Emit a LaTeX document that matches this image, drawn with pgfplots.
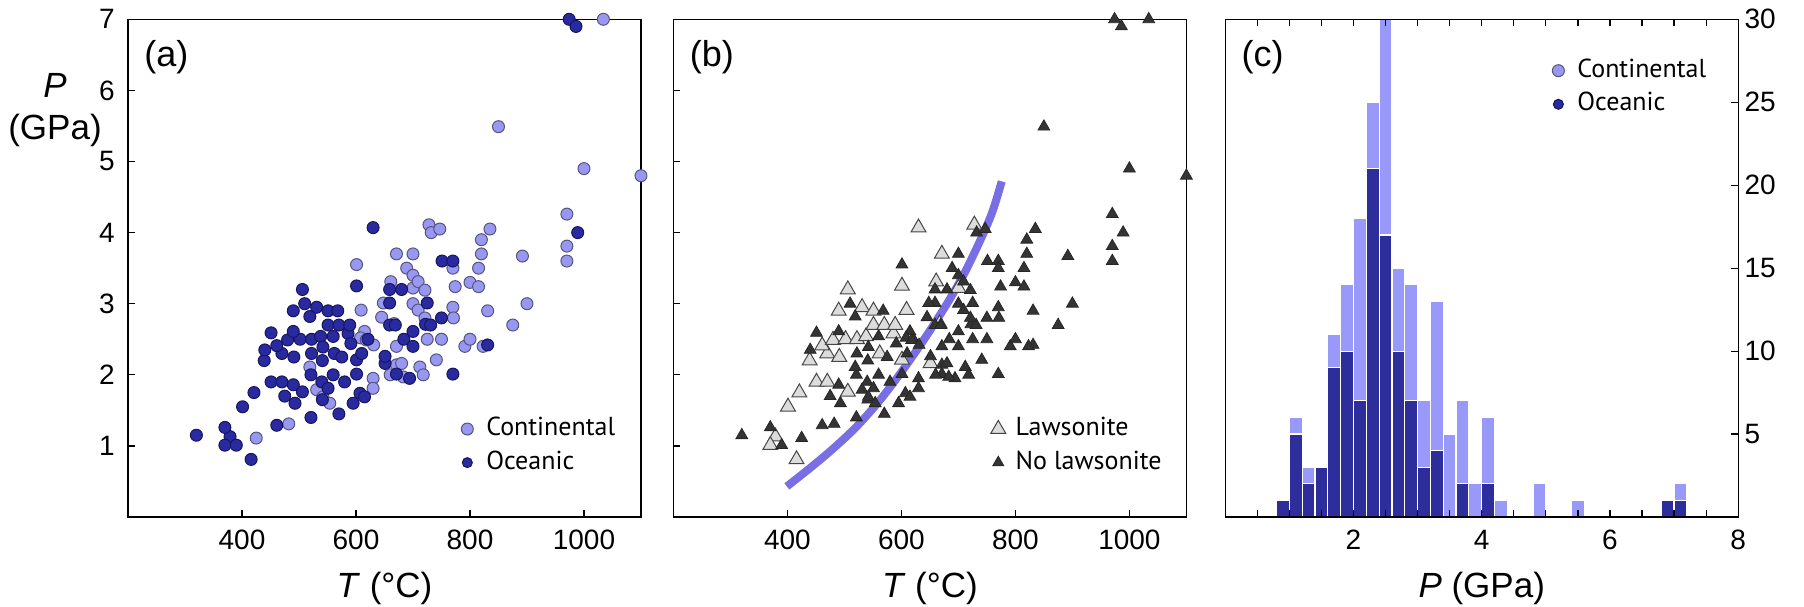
\documentclass[border=0pt]{standalone}
\usepackage{pgfplots}
\pgfplotsset{compat=1.18}
\usepackage{pgfplotstable}
\usepackage{fontspec}
\setmainfont{Liberation Sans}
\newfontfamily\legfont{PT Sans}
\definecolor{contfill}{RGB}{152,152,242}
\definecolor{contedge}{RGB}{85,85,125}
\definecolor{ocfill}{RGB}{42,42,160}
\definecolor{ocedge}{RGB}{22,22,95}
\definecolor{histlight}{RGB}{153,153,250}
\definecolor{histdark}{RGB}{45,45,155}
\definecolor{curvecol}{RGB}{122,110,228}
\definecolor{lawfill}{RGB}{220,220,220}
\definecolor{lawedge}{RGB}{70,70,70}
\definecolor{nolawfill}{RGB}{52,52,52}

% Oceanic, lawsonite-bearing
\pgfplotstableread{
T P
379 1.13
370 1.01
416 0.81
401 1.55
421 1.75
451 1.90
470 1.90
439 2.20
470 2.30
491 2.25
461 2.41
480 2.49
502 2.50
522 2.50
538 2.54
586 2.58
562 2.30
601 2.21
506 1.76
490 2.90
506 3.20
531 2.95
551 2.90
551 2.70
570 2.70
589 2.70
601 3.25
630 4.07
651 2.16
}\ocLaw
% Oceanic, no lawsonite
\pgfplotstableread{
T P
320 1.15
370 1.26
390 1.01
440 2.35
451 2.59
461 1.29
475 1.70
490 2.61
490 1.86
493 1.60
510 3.00
519 2.82
522 2.30
521 2.00
521 1.40
542 2.39
541 2.20
540 1.90
541 1.65
551 1.81
560 2.54
560 2.00
568 2.90
575 2.25
570 1.45
580 1.90
591 2.44
595 1.60
601 2.01
610 2.30
607 1.74
615 1.69
621 2.50
651 2.26
659 3.20
659 3.01
659 2.70
669 2.70
671 2.01
680 3.20
684 2.50
694 1.95
700 2.61
700 2.40
722 2.71
725 3.01
731 2.70
750 2.80
751 3.60
770 3.60
770 2.01
831 2.42
974 7.00
986 6.90
989 4.00
}\ocNo
% Continental, lawsonite-bearing
\pgfplotstableread{
T P
609 2.91
661 3.31
671 3.70
728 4.11
700 3.22
667 2.72
}\contLaw
% Continental, no lawsonite
\pgfplotstableread{
T P
425 1.11
482 1.31
519 2.11
531 1.79
542 1.69
554 1.60
601 3.55
615 2.61
608 2.52
618 2.49
631 2.42
630 1.95
630 1.81
645 2.81
648 3.01
660 2.00
671 2.40
671 2.14
680 2.16
683 1.97
689 3.50
700 3.70
700 3.40
700 3.00
709 3.31
709 2.91
721 3.19
721 2.80
712 2.11
718 2.00
725 2.50
732 4.00
741 2.21
747 4.05
750 2.50
770 3.50
770 2.95
774 3.24
771 2.80
791 2.40
800 3.30
800 2.50
815 3.50
815 3.24
820 3.90
820 3.70
823 2.40
831 2.90
835 4.05
850 5.49
875 2.70
892 3.67
900 3.00
970 4.26
970 3.81
970 3.60
1000 4.90
1034 7.00
1100 4.80
}\contNo
% Lawsonite-out curve
\pgfplotstableread{
T P
399 0.43
440 0.69
480 0.96
520 1.26
560 1.62
600 2.04
640 2.50
680 3.00
710 3.42
740 3.92
760 4.30
776 4.72
}\curve
% Histogram: bin centre, all samples (continental + oceanic)
\pgfplotstableread{
P all
0.9 1
1.1 6
1.3 3
1.5 3
1.7 11
1.9 14
2.1 18
2.3 25
2.5 30
2.7 15
2.9 14
3.1 7
3.3 13
3.5 5
3.7 7
3.9 2
4.1 6
4.3 1
4.9 2
5.5 1
6.9 1
7.1 2
}\histAll
% Histogram: oceanic only
\pgfplotstableread{
P oc
0.9 1
1.1 5
1.3 2
1.5 3
1.7 9
1.9 10
2.1 7
2.3 21
2.5 17
2.7 10
2.9 7
3.1 3
3.3 4
3.7 2
4.1 2
6.9 1
7.1 1
}\histOc

\pgfplotsset{
  panel/.style={
    scale only axis, width=256.5pt, height=248.85pt,
    axis line style={line width=0.7pt},
    tick align=inside, major tick length=3.5pt, minor tick length=3.5pt,
    every tick/.style={black, line width=0.6pt},
    tick label style={font=\fontsize{14}{16}\selectfont},
    /pgf/number format/assume math mode=true,
    /pgf/number format/1000 sep={},
    xticklabel style={anchor=base, yshift=-16pt},
    xlabel style={font=\fontsize{17.5}{20}\selectfont, at={(axis description cs:0.5,0)}, anchor=base, yshift=-40pt},
    legend image code/.code={\draw[#1] plot coordinates {(0pt,0pt)};},
    legend cell align=left,
    legend style={draw=none, fill=none, inner sep=0pt, row sep=5pt, column sep=6.5pt,
      font=\legfont\fontsize{13}{15}\selectfont,
      nodes={inner sep=0pt, text height=9.2pt, text depth=2.6pt}},
  },
  contmark/.style={only marks, mark=*, mark size=3pt, mark options={fill=contfill, draw=contedge, line width=0.5pt}},
  ocmark/.style={only marks, mark=*, mark size=3pt, mark options={fill=ocfill, draw=ocedge, line width=0.5pt}},
  lawmark/.style={only marks, mark=triangle*, mark size=4.3pt, mark options={fill=lawfill, draw=lawedge, line width=0.5pt}},
  nolawmark/.style={only marks, mark=triangle*, mark size=3.4pt, mark options={fill=nolawfill, draw=black!85, line width=0.4pt}},
}

\begin{document}
\begin{tikzpicture}
\path[use as bounding box] (0pt,-44.5pt) rectangle (902pt,258.5pt);

% ---------------- (a)
\begin{axis}[panel, at={(64pt,0pt)}, anchor=south west,
  xmin=200, xmax=1100, ymin=0, ymax=7,
  xtick={400,600,800,1000}, ytick={1,2,3,4,5,6,7},
  xtick pos=bottom, ytick pos=left,
  yticklabel style={anchor=east, inner sep=0pt, xshift=-6.5pt},
  xlabel={\textit{T} (°C)},
  clip=false,
  legend style={at={(0.649,0.143)}, anchor=west},
]
\addplot[contmark, forget plot] table {\contLaw};
\addplot[contmark, forget plot] table {\contNo};
\addplot[ocmark, forget plot] table {\ocLaw};
\addplot[ocmark, forget plot] table {\ocNo};
\addlegendimage{mark=*, mark size=3pt, mark options={fill=contfill, draw=contedge, line width=0.5pt}}
\addlegendentry{Continental}
\addlegendimage{mark=*, mark size=2.5pt, mark options={fill=ocfill, draw=ocedge, line width=0.5pt}}
\addlegendentry{Oceanic}
\node[anchor=west, inner sep=0pt, font=\fontsize{18}{20}\selectfont] at (rel axis cs:0,1) [xshift=8pt, yshift=-19pt] {(a)};
\node[align=center, inner sep=0pt, font=\fontsize{17.5}{21}\selectfont] at (rel axis cs:0,1) [xshift=-36.5pt, yshift=-45.5pt] {\textit{P}\\(GPa)};
\end{axis}

% ---------------- (b)
\begin{axis}[panel, at={(336.7pt,0pt)}, anchor=south west,
  xmin=200, xmax=1100, ymin=0, ymax=7,
  xtick={400,600,800,1000}, ytick={1,2,3,4,5,6,7}, yticklabels={},
  xtick pos=bottom, ytick pos=left,
  xlabel={\textit{T} (°C)},
  clip=false,
  legend style={at={(0.618,0.143)}, anchor=west, column sep=5pt},
]
\addplot[curvecol, line width=4pt, smooth, forget plot] table {\curve};
\addplot[lawmark, forget plot] table {\ocLaw};
\addplot[lawmark, forget plot] table {\contLaw};
\addplot[nolawmark, forget plot] table {\ocNo};
\addplot[nolawmark, forget plot] table {\contNo};
\addlegendimage{mark=triangle*, mark size=4.3pt, mark options={fill=lawfill, draw=lawedge, line width=0.5pt}}
\addlegendentry{Lawsonite}
\addlegendimage{mark=triangle*, mark size=3.2pt, mark options={fill=nolawfill, draw=black!85, line width=0.4pt}}
\addlegendentry{No lawsonite}
\node[anchor=west, inner sep=0pt, font=\fontsize{18}{20}\selectfont] at (rel axis cs:0,1) [xshift=8pt, yshift=-19pt] {(b)};
\end{axis}

% ---------------- (c)
\begin{axis}[panel, at={(612.6pt,0pt)}, anchor=south west,
  xmin=0, xmax=8, ymin=0, ymax=30,
  xtick={2,4,6,8}, minor xtick={0.5,1,...,7.5},
  ytick={5,10,15,20,25,30},
  xtick pos=both, ytick pos=right, yticklabel pos=right,
  yticklabel style={anchor=west, inner sep=0pt, xshift=3pt},
  xlabel={\textit{P} (GPa)},
  axis on top,
  legend style={at={(0.637,0.863)}, anchor=west},
]
\addplot[ybar, bar width=0.2, bar shift=0pt, fill=histlight, draw=white, line width=0.6pt, forget plot] table {\histAll};
\addplot[ybar, bar width=0.2, bar shift=0pt, fill=histdark, draw=white, line width=0.6pt, forget plot] table {\histOc};
\addlegendimage{mark=*, mark size=3pt, mark options={fill=contfill, draw=contedge, line width=0.5pt}}
\addlegendentry{Continental}
\addlegendimage{mark=*, mark size=2.5pt, mark options={fill=ocfill, draw=ocedge, line width=0.5pt}}
\addlegendentry{Oceanic}
\node[anchor=west, inner sep=0pt, font=\fontsize{18}{20}\selectfont] at (rel axis cs:0,1) [xshift=8pt, yshift=-19pt] {(c)};
\node[inner sep=0pt, font=\fontsize{17.5}{20}\selectfont\itshape] at (rel axis cs:1,1) [xshift=28pt, yshift=-104.5pt] {n};
\end{axis}
\end{tikzpicture}
\end{document}
